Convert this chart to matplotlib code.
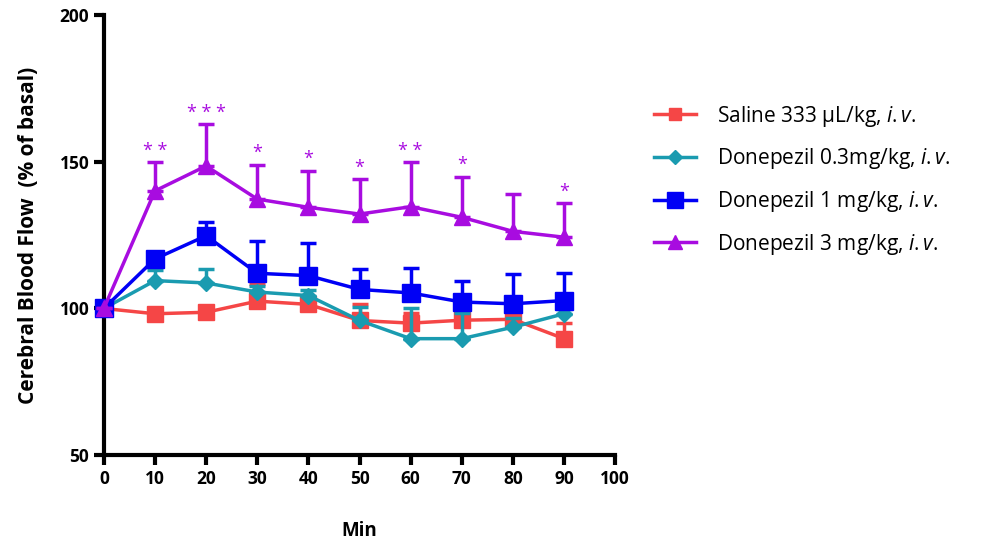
import matplotlib
matplotlib.use("Agg")
import matplotlib.pyplot as plt
from matplotlib.lines import Line2D

plt.rcParams["mathtext.fontset"] = "custom"
plt.rcParams["mathtext.it"] = "Open Sans:italic"
plt.rcParams["mathtext.rm"] = "Open Sans"

# time points (min)
minutes = [0, 10, 20, 30, 40, 50, 60, 70, 80, 90]

labels = [
    "Saline 333 \u03bcL/kg, $\\it{i.v.}$",
    "Donepezil 0.3mg/kg, $\\it{i.v.}$",
    "Donepezil 1 mg/kg, $\\it{i.v.}$",
    "Donepezil 3 mg/kg, $\\it{i.v.}$",
]

saline = [100, 98.2, 98.7, 102.5, 101.4, 95.9, 95.0, 96.0, 96.3, 89.7]
saline_err = [0, 1.5, 1.5, 5.9, 1.5, 5.7, 3.4, 2.5, 2.5, 5.4]

dpz03 = [100, 109.5, 108.7, 105.6, 104.4, 95.9, 89.7, 89.7, 93.6, 98.2]
dpz03_err = [0, 3.5, 4.9, 2.0, 2.0, 4.5, 10.5, 8.7, 3.0, 1.5]

dpz1 = [100, 116.9, 124.8, 112.0, 111.2, 106.5, 105.3, 102.2, 101.6, 102.7]
dpz1_err = [0, 1.5, 4.6, 10.9, 11.0, 7.1, 8.5, 7.3, 10.2, 9.3]

dpz3 = [100, 140.1, 148.6, 137.3, 134.5, 132.2, 134.7, 131.1, 126.3, 124.3]
dpz3_err = [0, 9.7, 14.2, 11.6, 12.4, 11.8, 15.1, 13.9, 12.7, 11.6]

# significance marks for the 3 mg/kg group
stars = ["", "* *", "* * *", "*", "*", "*", "* *", "*", "", "*"]

colors = ["#F54646", "#1A9BB0", "#0000F5", "#A80CE0"]
markers = ["s", "D", "s", "^"]
msizes = [11, 8, 13, 12]

fig = plt.figure(figsize=(9.89, 5.45), dpi=100)
ax = fig.add_axes([0.105, 0.165, 0.517, 0.807])

series = [(saline, saline_err), (dpz03, dpz03_err), (dpz1, dpz1_err), (dpz3, dpz3_err)]
for i, (vals, err) in enumerate(series):
    ax.errorbar(minutes, vals, yerr=[[0] * len(err), err], color=colors[i],
                marker=markers[i], markersize=msizes[i], linewidth=2.5,
                elinewidth=2.5, capsize=6, capthick=2.5,
                zorder=3 + i, clip_on=False)

for x, v, e, s in zip(minutes, dpz3, dpz3_err, stars):
    if s:
        ax.annotate(s, (x, v + e), xytext=(0, 2), textcoords="offset points",
                    ha="center", va="bottom", color=colors[3], fontsize=13,
                    fontfamily="Open Sans")

ax.set_xlim(0, 100)
ax.set_ylim(50, 200)
ax.set_xticks(range(0, 101, 10))
ax.set_yticks([50, 100, 150, 200])
for side in ["top", "right"]:
    ax.spines[side].set_visible(False)
for side in ["left", "bottom"]:
    ax.spines[side].set_linewidth(3)
ax.tick_params(direction="out", length=7, width=3, labelsize=12.5)
for t in ax.get_xticklabels() + ax.get_yticklabels():
    t.set_fontweight("bold")
    t.set_fontfamily("Open Sans")

ax.set_xlabel("Min", fontsize=13.5, fontweight="bold", fontfamily="Open Sans", labelpad=24)
ax.set_ylabel("Cerebral Blood Flow  (% of basal)", fontsize=15, fontweight="bold",
              fontfamily="Open Sans", labelpad=15)

handles = [Line2D([], [], color=c, marker=m, markersize=s * 0.85, linewidth=2.5)
           for c, m, s in zip(colors, markers, msizes)]
leg = ax.legend(handles, labels, loc="center left", bbox_to_anchor=(1.04, 0.625),
                frameon=False, prop={"family": "Open Sans", "size": 15},
                handlelength=2.0, handletextpad=1.0, labelspacing=0.85)

fig.savefig("out.png", dpi=100)
